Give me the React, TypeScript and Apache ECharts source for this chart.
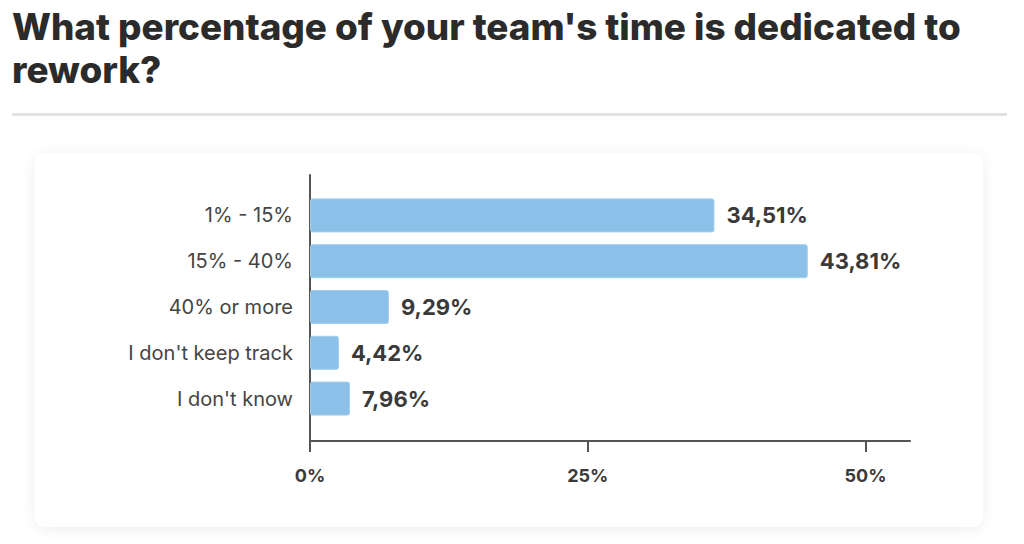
import React, { useEffect, useRef } from "react";
import * as echarts from "echarts";

const titleText = "What percentage of your team's time is dedicated to\nrework?";
const categories = ["1% - 15%", "15% - 40%", "40% or more", "I don't keep track", "I don't know"];
// bar lengths as read against the x axis
const barValues = [36.4, 44.8, 7.1, 2.6, 3.6];
// percentages printed next to the bars
const labelTexts = ["34,51%", "43,81%", "9,29%", "4,42%", "7,96%"];
const xTicks = [0, 25, 50];

const FONT = "Inter, 'Noto Sans', sans-serif";

export default function App() {
  const ref = useRef<HTMLDivElement>(null);
  useEffect(() => {
    if (!ref.current) return;
    const chart = echarts.init(ref.current, undefined, { renderer: "svg" });
    chart.setOption({
      animation: false,
      backgroundColor: "#ffffff",
      textStyle: { fontFamily: FONT },
      title: {
        text: titleText,
        left: 7,
        top: 0,
        textStyle: {
          fontFamily: FONT,
          fontSize: 36.8,
          fontWeight: 800,
          color: "#2b2b2b",
          lineHeight: 43,
        },
      },
      graphic: [
        {
          type: "rect",
          z: -10,
          shape: { x: 12, y: 113, width: 995, height: 3 },
          style: { fill: "#e2e2e2" },
        },
        {
          type: "rect",
          z: -10,
          shape: { x: 35, y: 153, width: 948, height: 374, r: 10 },
          style: {
            fill: "#ffffff",
            shadowBlur: 14,
            shadowColor: "rgba(0,0,0,0.07)",
            shadowOffsetY: 2,
          },
        },
      ],
      grid: [
        { left: 310, top: 192.5, width: 600, height: 229 },
        { left: 310, top: 175, width: 600, height: 266 },
      ],
      xAxis: [
        {
          gridIndex: 0,
          type: "value",
          min: 0,
          max: 54,
          interval: 25,
          offset: 19.5,
          splitLine: { show: false },
          axisLine: { show: true, lineStyle: { color: "#555555", width: 2 } },
          axisTick: {
            show: true,
            length: 11,
            customValues: xTicks,
            lineStyle: { color: "#555555", width: 2 },
          },
          axisLabel: {
            customValues: xTicks,
            margin: 25,
            fontSize: 18,
            fontWeight: 700,
            color: "#3a3a3a",
            fontFamily: FONT,
            formatter: (v: number) => v + "%",
          },
        },
        {
          gridIndex: 1,
          type: "value",
          min: 0,
          max: 1,
          show: false,
        },
      ],
      yAxis: [
        {
          gridIndex: 0,
          type: "category",
          inverse: true,
          data: categories,
          axisLine: { show: false },
          axisTick: { show: false },
          axisLabel: {
            margin: 17,
            fontSize: 20,
            color: "#444444",
            fontFamily: FONT,
          },
        },
        {
          gridIndex: 1,
          type: "value",
          min: 0,
          max: 1,
          axisLine: { show: true, lineStyle: { color: "#555555", width: 2 } },
          axisTick: { show: false },
          axisLabel: { show: false },
          splitLine: { show: false },
        },
      ],
      series: [
        {
          type: "bar",
          xAxisIndex: 0,
          yAxisIndex: 0,
          data: barValues,
          barWidth: 34,
          itemStyle: {
            color: "#8BC1E8",
            borderRadius: 2,
            borderColor: "#A3CEEE",
            borderWidth: 1,
          },
          label: {
            show: true,
            position: "right",
            distance: 12,
            fontSize: 22,
            fontWeight: 700,
            color: "#3a3a3a",
            fontFamily: FONT,
            formatter: (p: any) => labelTexts[p.dataIndex],
          },
        },
      ],
    });
    return () => chart.dispose();
  }, []);
  return (
    <div
      ref={ref}
      style={{ position: "absolute", left: 0, top: 0, width: 1024, height: 544 }}
    />
  );
}
